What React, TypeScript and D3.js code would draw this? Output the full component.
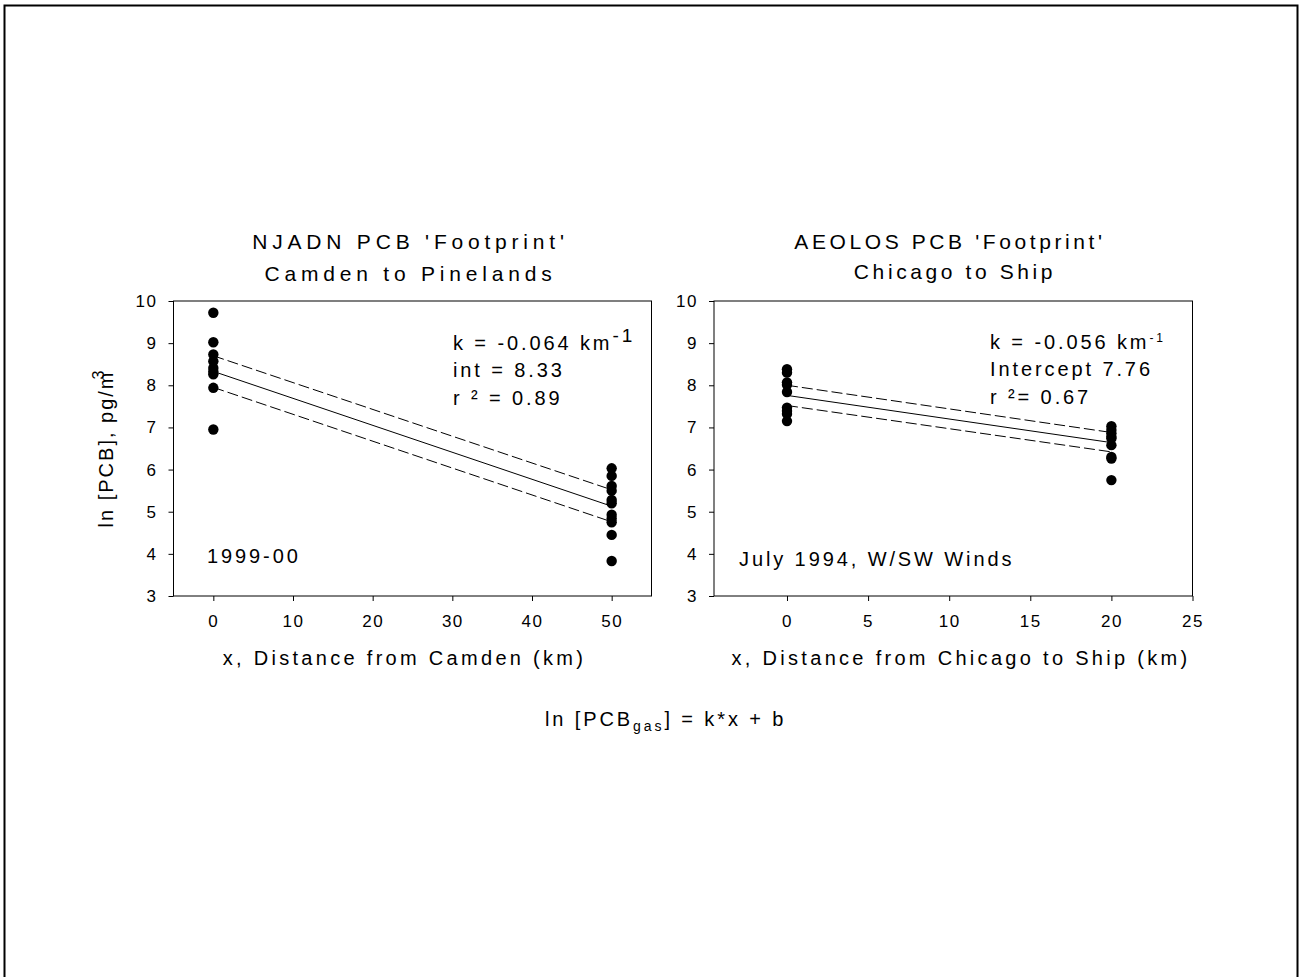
import React, { useEffect, useRef } from 'react';
import * as d3 from 'd3';

// values
const camdenNear = [9.72, 9.02, 8.73, 8.57, 8.41, 8.33, 8.26, 7.94, 6.95];
const camdenFar = [6.03, 5.85, 5.61, 5.5, 5.28, 5.2, 4.93, 4.84, 4.75, 4.45, 3.83];
const camdenFit = [[0, 8.33], [50, 5.13]];
const camdenUpper = [[0, 8.7], [50, 5.52]];
const camdenLower = [[0, 7.95], [50, 4.76]];

const chicagoNear = [8.38, 8.3, 8.07, 8.01, 7.84, 7.47, 7.39, 7.32, 7.15];
const chicagoFar = [7.03, 6.94, 6.86, 6.78, 6.74, 6.58, 6.3, 6.26, 5.75];
const chicagoFit = [[0, 7.76], [20, 6.64]];
const chicagoUpper = [[0, 8.0], [20, 6.88]];
const chicagoLower = [[0, 7.52], [20, 6.42]];

const yTicks = [3, 4, 5, 6, 7, 8, 9, 10];
const camdenTicks = [0, 10, 20, 30, 40, 50];
const chicagoTicks = [0, 5, 10, 15, 20, 25];

const FONT = "'Liberation Sans', Arial, sans-serif";

const Panel = ({ left, width, xDomain, xTicks, near, far, farX, fit, upper, lower }) => {
    const gx = useRef();
    const gy = useRef();
    const top = 301, height = 295;

    const x = d3.scaleLinear().domain(xDomain).range([left, left + width]);
    const y = d3.scaleLinear().domain([3, 10]).range([top + height, top]);
    const line = d3.line().x(d => x(d[0])).y(d => y(d[1]));

    useEffect(() => {
        const xa = d3.select(gx.current)
            .call(d3.axisBottom(x).tickValues(xTicks).tickFormat(d3.format('d'))
                .tickSize(5).tickSizeOuter(0).tickPadding(14));
        const ya = d3.select(gy.current)
            .call(d3.axisLeft(y).tickValues(yTicks).tickFormat(d3.format('d'))
                .tickSize(5).tickSizeOuter(0).tickPadding(11));
        [xa, ya].forEach(a => {
            a.select('.domain').remove();
            a.selectAll('text')
                .attr('font-family', FONT)
                .attr('font-size', 17)
                .attr('fill', '#000')
                .style('letter-spacing', '1.5px');
        });
    }, []);

    const pts = [
        ...near.map(v => [0, v]),
        ...far.map(v => [farX, v]),
    ];

    return (
        <g>
            <g ref={gx} transform={`translate(0,${top + height})`} />
            <g ref={gy} transform={`translate(${left},0)`} />
            <rect x={left} y={top} width={width} height={height} fill="none" stroke="#000" strokeWidth={1} />
            <path d={line(upper)} fill="none" stroke="#000" strokeWidth={1} strokeDasharray="11,4" />
            <path d={line(fit)} fill="none" stroke="#000" strokeWidth={1} />
            <path d={line(lower)} fill="none" stroke="#000" strokeWidth={1} strokeDasharray="11,4" />
            {pts.map((p, i) => (
                <circle key={i} cx={x(p[0])} cy={y(p[1])} r={5.2} fill="#000" />
            ))}
        </g>
    );
};

export default function App() {
    const txt = { fontFamily: FONT, fill: '#000' };
    return (
        <svg width={1299} height={977} style={{ position: 'absolute', left: 0, top: 0, background: '#fff' }}>
            <rect x={4.5} y={5.5} width={1293} height={1000} fill="none" stroke="#000" strokeWidth={2} />

            <Panel left={173.5} width={478} xDomain={[-5, 55]} xTicks={camdenTicks}
                near={camdenNear} far={camdenFar} farX={50}
                fit={camdenFit} upper={camdenUpper} lower={camdenLower} />
            <Panel left={714} width={478.5} xDomain={[-4.5, 25]} xTicks={chicagoTicks}
                near={chicagoNear} far={chicagoFar} farX={20}
                fit={chicagoFit} upper={chicagoUpper} lower={chicagoLower} />

            <g style={{ ...txt, fontSize: 21, letterSpacing: '4.8px' }} textAnchor="middle">
                <text x={410.5} y={249}>NJADN PCB 'Footprint'</text>
                <text x={410.5} y={281}>Camden to Pinelands</text>
            </g>
            <g style={{ ...txt, fontSize: 21, letterSpacing: '3.6px' }} textAnchor="middle">
                <text x={950} y={249}>AEOLOS PCB 'Footprint'</text>
                <text x={955} y={279}>Chicago to Ship</text>
            </g>

            <g style={{ ...txt, fontSize: 20, letterSpacing: '3.3px' }} textAnchor="middle">
                <text x={404.5} y={665}>x, Distance from Camden (km)</text>
                <text x={961} y={665}>x, Distance from Chicago to Ship (km)</text>
            </g>
            <g style={{ ...txt, fontSize: 20, letterSpacing: '2px' }} textAnchor="middle">
                <text transform="translate(113,448) rotate(-90)">
                    ln [PCB], pg/m<tspan dx={-9} dy={-9} fontSize={16}>3</tspan>
                </text>
            </g>

            <g style={{ ...txt, fontSize: 20, letterSpacing: '2.9px' }}>
                <text x={453} y={350}>k = -0.064 km<tspan dy={-8} fontSize={19}>-1</tspan></text>
                <text x={453} y={377}>int = 8.33</text>
                <text x={453} y={405}>r ² = 0.89</text>
                <text x={207} y={563}>1999-00</text>

                <text x={990} y={349}>k = -0.056 km<tspan dy={-7} fontSize={12}>-1</tspan></text>
                <text x={990} y={376}>Intercept 7.76</text>
                <text x={990} y={404}>r ²= 0.67</text>
                <text x={739} y={566}>July 1994, W/SW Winds</text>

                <text x={545} y={726}>
                    ln [PCB<tspan dy={5} fontSize={14}>gas</tspan><tspan dy={-5}>] = k*x + b</tspan>
                </text>
            </g>
        </svg>
    );
}
